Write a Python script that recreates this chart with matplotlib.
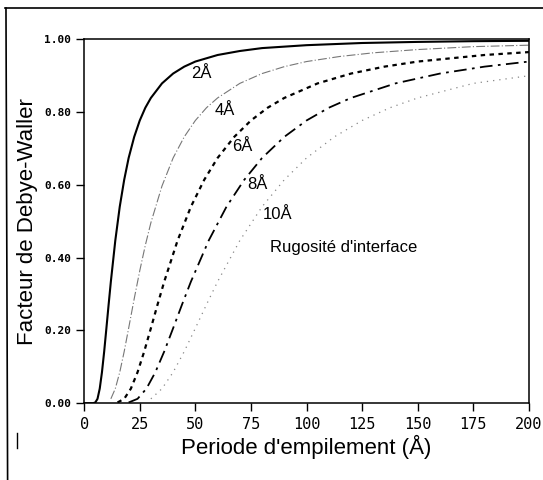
import matplotlib
matplotlib.use('Agg')
import matplotlib.pyplot as plt
from matplotlib.lines import Line2D

plt.rcParams['font.family'] = ['Liberation Sans', 'DejaVu Sans']

# valeurs (facteur de Debye-Waller vs periode)
period_2 = [0, 4, 5, 6, 7, 8, 9, 10, 11, 12, 14, 16, 18, 20, 22.5, 25, 27.5, 30, 35, 40,
            45, 50, 60, 70, 80, 100, 125, 150, 175, 200]
dw_2 = [0, 0, 0.002, 0.012, 0.040, 0.085, 0.142, 0.206, 0.271, 0.334, 0.447, 0.540, 0.614,
        0.674, 0.732, 0.777, 0.812, 0.839, 0.879, 0.906, 0.925, 0.939, 0.957, 0.968, 0.976,
        0.984, 0.990, 0.993, 0.995, 0.996]

period_4 = [12, 14, 16, 18, 20, 22.5, 25, 27.5, 30, 35, 40, 45, 50, 55, 60, 70, 80, 90, 100,
            115, 130, 150, 175, 200]
dw_4 = [0.012, 0.040, 0.085, 0.142, 0.206, 0.287, 0.364, 0.434, 0.496, 0.597, 0.674, 0.732,
        0.777, 0.812, 0.839, 0.879, 0.906, 0.925, 0.939, 0.953, 0.963, 0.972, 0.980, 0.984]

period_6 = [15, 18, 21, 24, 27, 30, 33, 36, 42, 48, 54, 60, 67.5, 75, 82.5, 90, 105, 120,
            135, 150, 180, 200]
dw_6 = [0.002, 0.012, 0.040, 0.085, 0.142, 0.206, 0.271, 0.334, 0.447, 0.540, 0.614, 0.674,
        0.732, 0.777, 0.812, 0.839, 0.879, 0.906, 0.925, 0.939, 0.957, 0.965]

period_8 = [20, 24, 28, 32, 36, 40, 44, 48, 56, 64, 72, 80, 90, 100, 110, 120, 140, 160, 180, 200]
dw_8 = [0.002, 0.012, 0.040, 0.085, 0.142, 0.206, 0.271, 0.334, 0.447, 0.540, 0.614, 0.674,
        0.732, 0.777, 0.812, 0.839, 0.879, 0.906, 0.925, 0.939]

period_10 = [30, 35, 40, 45, 50, 55, 60, 70, 80, 90, 100, 112.5, 125, 137.5, 150, 175, 200]
dw_10 = [0.012, 0.040, 0.085, 0.142, 0.206, 0.271, 0.334, 0.447, 0.540, 0.614, 0.674, 0.732,
         0.777, 0.812, 0.839, 0.879, 0.900]

curve_labels = ['2Å', '4Å', '6Å', '8Å', '10Å']
label_x = [52.5, 63, 71, 78, 87]
label_y = [0.905, 0.805, 0.705, 0.60, 0.52]

xticks = [0, 25, 50, 75, 100, 125, 150, 175, 200]
yticks = [0.0, 0.2, 0.4, 0.6, 0.8, 1.0]

fig = plt.figure(figsize=(5.43, 4.8), dpi=100)
ax = fig.add_axes([0.155, 0.160, 0.819, 0.758])

ax.plot(period_2, dw_2, color='black', lw=1.5, ls='-')
ax.plot(period_4, dw_4, color='#777777', lw=0.8, ls=(0, (8, 2, 1, 2)))
ax.plot(period_6, dw_6, color='black', lw=1.6, ls=(0, (2, 2)))
ax.plot(period_8, dw_8, color='black', lw=1.3, ls=(0, (7, 3, 1.5, 3)))
ax.plot(period_10, dw_10, color='#888888', lw=0.9, ls=(0, (1, 4)))

for lab, lx, ly in zip(curve_labels, label_x, label_y):
    ax.text(lx, ly, lab, fontsize=12, ha='center', va='center')
ax.text(83.5, 0.427, "Rugosité d'interface", fontsize=12, ha='left', va='center')

ax.set_xlim(0, 200)
ax.set_ylim(0, 1)
ax.set_xticks(xticks)
ax.set_yticks(yticks)
ax.set_xticklabels([str(t) for t in xticks], fontsize=11, family='DejaVu Sans Mono')
ax.set_yticklabels(['%.2f' % t for t in yticks], fontsize=8, fontweight='bold',
                   family='DejaVu Sans Mono')
ax.tick_params(direction='out', length=6, width=1, top=False, right=False)
ax.tick_params(axis='x', pad=4)
for s in ax.spines.values():
    s.set_linewidth(1.1)

ax.set_xlabel("Periode d'empilement (Å)", fontsize=16, labelpad=2)
ax.set_ylabel('Facteur de Debye-Waller', fontsize=16, labelpad=4)

# cadre scanne autour de la figure
fig.add_artist(Line2D([0.010, 1.0], [0.983, 0.983], color='black', lw=1.2))
fig.add_artist(Line2D([0.011, 0.014], [0.983, 0.0], color='black', lw=1.2))
fig.add_artist(Line2D([0.031, 0.031], [0.067, 0.097], color='black', lw=1))

fig.savefig('out.png', dpi=100)
